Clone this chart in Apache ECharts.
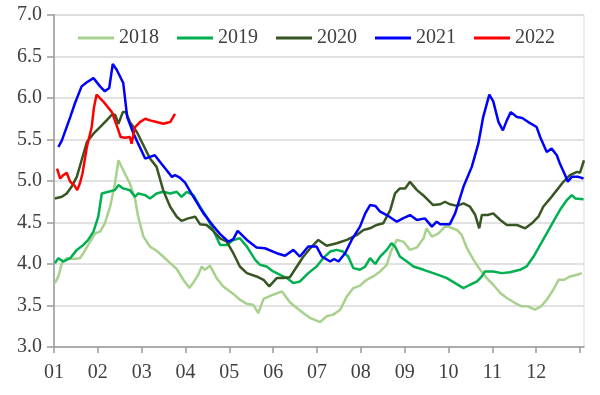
<!DOCTYPE html>
<html>
<head>
<meta charset="utf-8">
<script src="https://cdn.jsdelivr.net/npm/echarts@6/dist/echarts.min.js"></script>
<style>
html,body{margin:0;padding:0;background:#fff;}
#chart{width:600px;height:395px;}
</style>
</head>
<body>
<div id="chart"></div>
<script>
// x = month position (0 = start of Jan, 12 = end of Dec), y = value
const seriesNames = ['2018', '2019', '2020', '2021', '2022'];
const monthLabels = ['01','02','03','04','05','06','07','08','09','10','11','12'];
const yTicks = [3.0, 3.5, 4.0, 4.5, 5.0, 5.5, 6.0, 6.5, 7.0];

const s2018 = [[0.02,3.77],[0.10,3.85],[0.18,4.01],[0.29,4.07],[0.44,4.06],[0.59,4.07],[0.67,4.13],[0.78,4.23],[0.94,4.37],[1.05,4.39],[1.16,4.49],[1.28,4.69],[1.39,4.97],[1.47,5.25],[1.58,5.13],[1.73,4.97],[1.85,4.78],[1.92,4.57],[2.04,4.33],[2.19,4.21],[2.34,4.16],[2.49,4.09],[2.65,4.01],[2.80,3.94],[2.95,3.81],[3.09,3.71],[3.17,3.77],[3.29,3.87],[3.37,3.97],[3.44,3.93],[3.56,3.98],[3.71,3.83],[3.86,3.73],[4.09,3.64],[4.24,3.57],[4.40,3.52],[4.54,3.51],[4.66,3.41],[4.78,3.58],[5.00,3.63],[5.20,3.67],[5.38,3.54],[5.61,3.44],[5.84,3.35],[6.07,3.30],[6.22,3.37],[6.37,3.39],[6.53,3.45],[6.68,3.61],[6.83,3.71],[6.98,3.74],[7.13,3.81],[7.28,3.85],[7.44,3.91],[7.59,3.99],[7.70,4.17],[7.82,4.29],[7.97,4.27],[8.12,4.17],[8.28,4.20],[8.43,4.31],[8.50,4.43],[8.62,4.33],[8.77,4.37],[8.92,4.45],[9.00,4.45],[9.19,4.41],[9.30,4.35],[9.42,4.19],[9.57,4.05],[9.72,3.93],[9.87,3.83],[10.02,3.75],[10.18,3.65],[10.33,3.59],[10.52,3.53],[10.67,3.49],[10.81,3.49],[10.97,3.45],[11.11,3.49],[11.24,3.57],[11.39,3.69],[11.51,3.81],[11.64,3.81],[11.77,3.85],[11.93,3.87],[12.04,3.89]];

const s2019 = [[0.02,4.01],[0.10,4.07],[0.21,4.03],[0.37,4.07],[0.52,4.17],[0.67,4.23],[0.78,4.29],[0.90,4.39],[1.01,4.57],[1.09,4.85],[1.24,4.87],[1.39,4.89],[1.47,4.95],[1.58,4.91],[1.73,4.89],[1.85,4.81],[1.92,4.85],[2.08,4.83],[2.19,4.79],[2.34,4.85],[2.49,4.87],[2.65,4.85],[2.80,4.87],[2.91,4.81],[3.03,4.87],[3.18,4.83],[3.33,4.69],[3.48,4.57],[3.63,4.41],[3.79,4.23],[3.94,4.23],[4.09,4.29],[4.24,4.31],[4.40,4.21],[4.59,4.05],[4.70,3.99],[4.85,3.97],[5.00,3.91],[5.16,3.87],[5.31,3.83],[5.46,3.77],[5.61,3.79],[5.80,3.89],[5.99,3.97],[6.14,4.07],[6.30,4.15],[6.45,4.17],[6.59,4.15],[6.71,4.09],[6.83,3.95],[6.98,3.93],[7.10,3.97],[7.21,4.07],[7.33,4.00],[7.44,4.09],[7.59,4.17],[7.70,4.25],[7.78,4.21],[7.89,4.09],[8.05,4.03],[8.20,3.97],[8.43,3.93],[8.65,3.89],[8.81,3.86],[8.96,3.83],[9.15,3.77],[9.34,3.71],[9.49,3.75],[9.65,3.79],[9.76,3.85],[9.83,3.91],[10.02,3.91],[10.21,3.89],[10.40,3.90],[10.63,3.93],[10.78,3.97],[10.94,4.09],[11.09,4.23],[11.24,4.37],[11.39,4.51],[11.54,4.65],[11.70,4.77],[11.81,4.83],[11.89,4.79],[12.08,4.78]];

const s2020 = [[0.02,4.79],[0.18,4.81],[0.29,4.85],[0.40,4.93],[0.52,5.05],[0.63,5.25],[0.75,5.47],[0.90,5.57],[1.05,5.65],[1.20,5.73],[1.34,5.81],[1.40,5.79],[1.47,5.69],[1.57,5.83],[1.64,5.83],[1.73,5.71],[1.89,5.59],[2.04,5.43],[2.19,5.27],[2.34,5.17],[2.49,4.89],[2.65,4.69],[2.80,4.57],[2.91,4.52],[3.06,4.55],[3.22,4.57],[3.33,4.48],[3.48,4.47],[3.63,4.40],[3.79,4.31],[3.94,4.27],[4.09,4.13],[4.24,3.97],[4.40,3.89],[4.62,3.85],[4.78,3.81],[4.91,3.73],[5.08,3.83],[5.23,3.83],[5.38,3.84],[5.54,3.97],[5.69,4.09],[5.88,4.21],[6.03,4.29],[6.22,4.22],[6.45,4.25],[6.68,4.29],[6.91,4.35],[7.06,4.41],[7.21,4.43],[7.36,4.47],[7.51,4.49],[7.67,4.65],[7.78,4.85],[7.89,4.91],[8.01,4.91],[8.12,4.99],[8.28,4.89],[8.46,4.81],[8.65,4.71],[8.81,4.72],[8.92,4.75],[9.03,4.72],[9.19,4.70],[9.34,4.73],[9.49,4.69],[9.61,4.59],[9.70,4.43],[9.76,4.59],[9.89,4.59],[10.02,4.61],[10.18,4.53],[10.33,4.47],[10.56,4.47],[10.75,4.43],[10.90,4.49],[11.05,4.57],[11.16,4.69],[11.32,4.79],[11.47,4.89],[11.62,4.99],[11.77,5.07],[11.93,5.11],[12.00,5.10],[12.09,5.25]];

const s2021 = [[0.10,5.41],[0.18,5.49],[0.37,5.77],[0.48,5.94],[0.63,6.14],[0.75,6.19],[0.90,6.24],[0.96,6.20],[1.05,6.14],[1.16,6.08],[1.26,6.12],[1.34,6.41],[1.43,6.34],[1.58,6.18],[1.67,5.77],[1.80,5.59],[1.92,5.45],[2.08,5.27],[2.19,5.29],[2.30,5.31],[2.42,5.23],[2.57,5.13],[2.69,5.05],[2.76,5.07],[2.87,5.04],[2.99,4.98],[3.18,4.81],[3.41,4.61],[3.63,4.46],[3.79,4.36],[3.98,4.27],[4.09,4.30],[4.19,4.40],[4.40,4.29],[4.62,4.20],[4.81,4.19],[5.08,4.13],[5.27,4.10],[5.46,4.17],[5.61,4.09],[5.80,4.21],[5.99,4.21],[6.11,4.09],[6.30,4.03],[6.39,4.06],[6.49,4.03],[6.64,4.13],[6.79,4.29],[6.98,4.45],[7.10,4.61],[7.21,4.71],[7.33,4.70],[7.44,4.63],[7.59,4.59],[7.82,4.51],[7.96,4.55],[8.12,4.59],[8.28,4.53],[8.46,4.55],[8.62,4.45],[8.73,4.51],[8.81,4.48],[9.03,4.48],[9.15,4.61],[9.34,4.93],[9.53,5.17],[9.68,5.45],[9.79,5.77],[9.93,6.04],[10.02,5.96],[10.14,5.71],[10.24,5.61],[10.33,5.73],[10.42,5.83],[10.56,5.77],[10.68,5.76],[10.82,5.71],[11.01,5.65],[11.09,5.53],[11.24,5.35],[11.35,5.39],[11.47,5.31],[11.54,5.21],[11.66,5.07],[11.72,4.99],[11.81,5.05],[11.96,5.05],[12.08,5.03]];

const s2022 = [[0.07,5.15],[0.14,5.03],[0.21,5.07],[0.29,5.10],[0.37,4.99],[0.46,4.95],[0.53,4.89],[0.59,4.97],[0.65,5.09],[0.75,5.41],[0.86,5.65],[0.91,5.88],[0.97,6.04],[1.12,5.96],[1.32,5.83],[1.43,5.67],[1.52,5.53],[1.62,5.52],[1.73,5.53],[1.77,5.45],[1.85,5.65],[1.96,5.71],[2.08,5.75],[2.19,5.73],[2.34,5.71],[2.49,5.69],[2.65,5.71],[2.76,5.81]];

const seriesData = [s2018, s2019, s2020, s2021, s2022];
const colors = ['#a9d18e', '#00b050', '#375623', '#0000ff', '#ff0000'];

const font = 'Liberation Serif';
const chart = echarts.init(document.getElementById('chart'), null, {renderer: 'canvas'});
const monthTicks = monthLabels.map((m, i) => i).concat([12]);
chart.setOption({
  animation: false,
  backgroundColor: '#fff',
  color: colors,
  grid: {left: 54, right: 16, top: 15, bottom: 48, show: true, borderColor: '#d9d9d9', borderWidth: 1},
  legend: {
    data: seriesNames,
    left: 73, top: 23,
    icon: 'rect', itemWidth: 36, itemHeight: 3, itemGap: 18,
    textStyle: {fontFamily: font, fontSize: 20, color: '#404040', padding: [0,0,0,0]}
  },
  xAxis: {
    type: 'value', min: 0, max: 12.09,
    axisLine: {show: true, lineStyle: {color: '#9a9a9a', width: 1.5}},
    axisTick: {show: true, length: 6, lineStyle: {color: '#9a9a9a', width: 1.5}, customValues: monthTicks},
    axisLabel: {customValues: monthLabels.map((m, i) => i), formatter: v => monthLabels[Math.round(v)] || '', fontFamily: font, fontSize: 20, color: '#404040', margin: 16},
    splitLine: {show: false}
  },
  yAxis: {
    type: 'value', min: yTicks[0], max: yTicks[yTicks.length - 1], interval: 0.5,
    axisLine: {show: true, lineStyle: {color: '#9a9a9a', width: 1.5}},
    axisTick: {show: true, length: 7, lineStyle: {color: '#9a9a9a', width: 1.5}},
    axisLabel: {formatter: v => v.toFixed(1), fontFamily: font, fontSize: 20, color: '#404040', margin: 12},
    splitLine: {show: true, lineStyle: {color: '#d9d9d9', width: 1.5}}
  },
  series: seriesNames.map((name, i) => ({
    name: name, type: 'line', data: seriesData[i],
    showSymbol: false, symbol: 'none',
    lineStyle: {width: 2.5, color: colors[i]},
    itemStyle: {color: colors[i]},
    z: 2 + i
  }))
});
</script>
</body>
</html>
